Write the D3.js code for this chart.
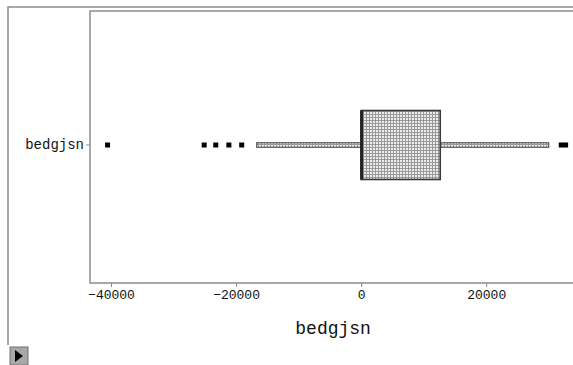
<!DOCTYPE html>
<html>
<head>
<meta charset="utf-8">
<script src="https://cdn.jsdelivr.net/npm/d3@7"></script>
<style>
  html, body { margin: 0; padding: 0; background: #fff; }
  svg { display: block; }
  text { font-family: "Liberation Mono", "DejaVu Sans Mono", monospace; fill: #111; }
</style>
</head>
<body>
<svg id="chart" width="573" height="365"></svg>
<script>
// Variable summarised by the box plot
const categories = ["bedgjsn"];
const q1 = [0];
const median = [0];
const q3 = [12650];
const whiskerLow = [-16700];
const whiskerHigh = [30000];
const outliers = [-40550, -25100, -23250, -21150, -19100, 32000, 32700];
const tickValues = [-40000, -20000, 0, 20000];
const axisTitle = "bedgjsn";

const svg = d3.select("#chart");
const W = 573, H = 365;
const plot = { left: 90, top: 11, bottom: 283, right: 580 };

const x = d3.scaleLinear().domain([-43360, 35000]).range([plot.left, plot.right]);
const y = d3.scaleBand().domain(categories).range([plot.top, 279]);

// Grid-textured fill used for the box and whiskers
const defs = svg.append("defs");
const pat = defs.append("pattern").attr("id", "grid").attr("patternUnits", "userSpaceOnUse")
  .attr("width", 3).attr("height", 3);
pat.append("rect").attr("width", 3).attr("height", 3).attr("fill", "#ececec");
pat.append("rect").attr("x", 0).attr("y", 0).attr("width", 1).attr("height", 3).attr("fill", "#999");
pat.append("rect").attr("x", 0).attr("y", 0).attr("width", 3).attr("height", 1).attr("fill", "#999");

// Outer window frame
svg.append("path").attr("d", `M8,${H - 20} V7 H${W}`)
  .attr("fill", "none").attr("stroke", "#8c8c8c").attr("stroke-width", 1.5);

// Plot frame
svg.append("path").attr("d", `M${W},${plot.top} H${plot.left} V${plot.bottom} H${W}`)
  .attr("fill", "none").attr("stroke", "#8c8c8c").attr("stroke-width", 1.5);

// X axis
const xAxis = svg.append("g").attr("transform", `translate(0,${plot.bottom})`)
  .call(d3.axisBottom(x).tickValues(tickValues).tickSize(4).tickPadding(3).tickFormat(d3.format("d")));
xAxis.select(".domain").remove();
xAxis.selectAll(".tick line").attr("stroke", "#8c8c8c");
xAxis.selectAll("text").attr("font-size", 13).attr("fill", "#111")
  .style("font-family", "'Liberation Mono', monospace");

// Y axis
const yAxis = svg.append("g").attr("transform", `translate(${plot.left},0)`)
  .call(d3.axisLeft(y).tickSize(4).tickPadding(2));
yAxis.select(".domain").remove();
yAxis.selectAll(".tick line").attr("stroke", "#8c8c8c");
yAxis.selectAll("text").attr("font-size", 14).attr("fill", "#111")
  .style("font-family", "'Liberation Mono', monospace");

// Axis title
svg.append("text").attr("x", x(-4480)).attr("y", 334).attr("text-anchor", "middle")
  .attr("font-size", 18).text(axisTitle);

// Box plot
categories.forEach((c, i) => {
  const cy = y(c) + y.bandwidth() / 2;
  const bh = 69, wh = 4.5;
  const g = svg.append("g");
  // whiskers as thin textured bars
  g.append("rect").attr("x", x(whiskerLow[i])).attr("y", cy - wh / 2)
    .attr("width", x(q1[i]) - x(whiskerLow[i])).attr("height", wh)
    .attr("fill", "url(#grid)").attr("stroke", "#555").attr("stroke-width", 1.2);
  g.append("rect").attr("x", x(q3[i])).attr("y", cy - wh / 2)
    .attr("width", x(whiskerHigh[i]) - x(q3[i])).attr("height", wh)
    .attr("fill", "url(#grid)").attr("stroke", "#555").attr("stroke-width", 1.2);
  // box
  g.append("rect").attr("x", x(q1[i])).attr("y", cy - bh / 2)
    .attr("width", x(q3[i]) - x(q1[i])).attr("height", bh)
    .attr("fill", "url(#grid)").attr("stroke", "#3a3a3a").attr("stroke-width", 1.6);
  // median
  g.append("line").attr("x1", x(median[i]) + 0.5).attr("x2", x(median[i]) + 0.5)
    .attr("y1", cy - bh / 2).attr("y2", cy + bh / 2)
    .attr("stroke", "#222").attr("stroke-width", 3);
  // outliers
  g.selectAll(".out").data(outliers).enter().append("rect")
    .attr("x", d => x(d) - 2.5).attr("y", cy - 2.5)
    .attr("width", 5).attr("height", 5).attr("fill", "#000");
});

// Small play button in the corner
const btn = svg.append("g").attr("transform", "translate(10,347)");
btn.append("rect").attr("width", 18).attr("height", 18).attr("fill", "#a8a8a8")
  .attr("stroke", "#707070").attr("stroke-width", 1);
btn.append("path").attr("d", "M5,3 L13,9 L5,15 Z").attr("fill", "#000");
</script>
</body>
</html>
